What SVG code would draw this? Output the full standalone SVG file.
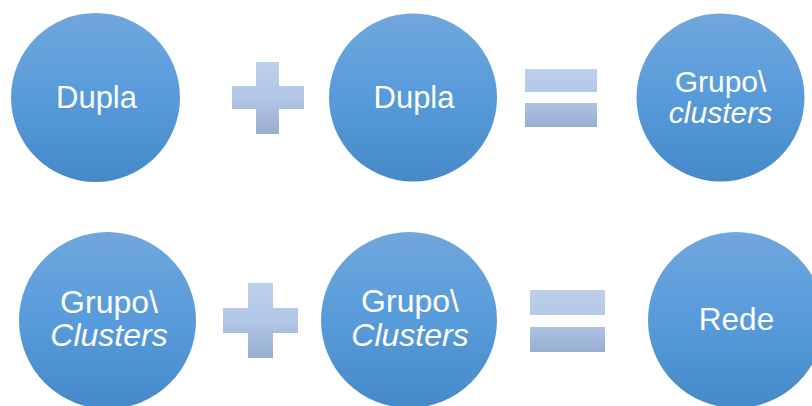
<svg xmlns="http://www.w3.org/2000/svg" width="812" height="406" viewBox="0 0 812 406">
  <defs>
    <linearGradient id="ballFill" x1="0" y1="0" x2="0" y2="1">
      <stop offset="0" stop-color="#70a7dc"/>
      <stop offset="0.5" stop-color="#579bdb"/>
      <stop offset="1" stop-color="#4689c8"/>
    </linearGradient>
    <linearGradient id="opFill" x1="0" y1="0" x2="0" y2="1">
      <stop offset="0" stop-color="#bcd0ec"/>
      <stop offset="0.5" stop-color="#b2c7e6"/>
      <stop offset="1" stop-color="#98aed1"/>
    </linearGradient>
  </defs>
  <style>
    .ball { fill: url(#ballFill); }
    .op { fill: url(#opFill); }
    .label { font-family: "Liberation Sans", Arial, sans-serif; fill: #ffffff; text-anchor: middle; }
    .it { font-style: italic; }
  </style>

  <!-- row 1: Dupla + Dupla = Grupo\ clusters -->
  <g id="dupla-a">
    <circle class="ball" cx="95.5" cy="97.5" r="84.5"/>
    <text class="label" x="96.5" y="108" font-size="31">Dupla</text>
  </g>
  <g id="plus-1">
    <path class="op" d="M256 62H279V86H304V109H279V134H256V109H232V86H256Z"/>
  </g>
  <g id="dupla-b">
    <circle class="ball" cx="413" cy="97.5" r="84"/>
    <text class="label" x="414" y="108" font-size="31">Dupla</text>
  </g>
  <g id="equals-1">
    <path class="op" d="M525 69H597V92H525Z M525 103H597V127H525Z"/>
  </g>
  <g id="grupo-clusters">
    <circle class="ball" cx="720.5" cy="97.5" r="84"/>
    <text class="label" x="720.5" y="91.5" font-size="30">Grupo\</text>
    <text class="label it" x="720.5" y="122.5" font-size="30">clusters</text>
  </g>

  <!-- row 2: Grupo\ Clusters + Grupo\ Clusters = Rede -->
  <g id="grupo-a">
    <circle class="ball" cx="107.5" cy="320.5" r="88.5"/>
    <text class="label" x="109" y="313" font-size="32">Grupo\</text>
    <text class="label it" x="109" y="346" font-size="32">Clusters</text>
  </g>
  <g id="plus-2">
    <path class="op" d="M248 283H273V308H298V333H273V358H248V333H223V308H248Z"/>
  </g>
  <g id="grupo-b">
    <circle class="ball" cx="409" cy="320" r="88"/>
    <text class="label" x="410" y="312" font-size="32">Grupo\</text>
    <text class="label it" x="410" y="346" font-size="32">Clusters</text>
  </g>
  <g id="equals-2">
    <path class="op" d="M530 290H605V315H530Z M530 327H605V352H530Z"/>
  </g>
  <g id="rede">
    <circle class="ball" cx="736" cy="320" r="88"/>
    <text class="label" x="736.5" y="330" font-size="31.5">Rede</text>
  </g>
</svg>
